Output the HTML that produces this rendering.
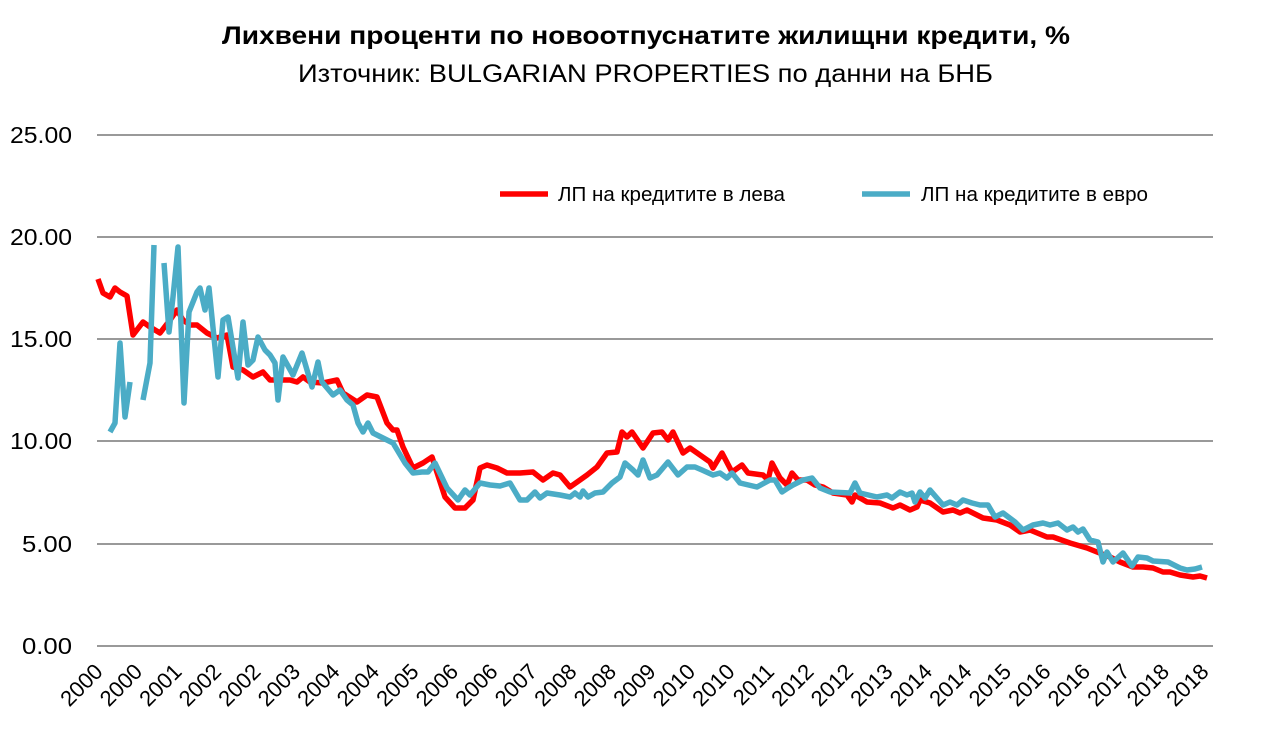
<!DOCTYPE html>
<html><head><meta charset="utf-8"><style>
body{margin:0;background:#fff;}
svg{display:block;font-family:"Liberation Sans","DejaVu Sans",sans-serif;}
</style></head><body>
<svg width="1286" height="743" viewBox="0 0 1286 743">
<text x="222" y="44" font-size="25" font-weight="bold" textLength="848" lengthAdjust="spacingAndGlyphs">Лихвени проценти по новоотпуснатите жилищни кредити, %</text>
<text x="298" y="82" font-size="25" textLength="695" lengthAdjust="spacingAndGlyphs">Източник: BULGARIAN PROPERTIES по данни на БНБ</text>
<g stroke="#999" stroke-width="2">
<line x1="97" x2="1213" y1="135" y2="135"/><line x1="97" x2="1213" y1="237" y2="237"/>
<line x1="97" x2="1213" y1="339" y2="339"/><line x1="97" x2="1213" y1="441" y2="441"/>
<line x1="97" x2="1213" y1="544" y2="544"/><line x1="97" x2="1213" y1="646" y2="646"/>
</g>
<g font-size="23" text-anchor="end" fill="#000">
<text x="72" y="143" textLength="62" lengthAdjust="spacingAndGlyphs">25.00</text><text x="72" y="245" textLength="62" lengthAdjust="spacingAndGlyphs">20.00</text><text x="72" y="347" textLength="62" lengthAdjust="spacingAndGlyphs">15.00</text>
<text x="72" y="449" textLength="62" lengthAdjust="spacingAndGlyphs">10.00</text><text x="72" y="552" textLength="50" lengthAdjust="spacingAndGlyphs">5.00</text><text x="72" y="654" textLength="50" lengthAdjust="spacingAndGlyphs">0.00</text>
</g>
<polyline fill="none" stroke="#ff0000" stroke-width="5.5" stroke-linejoin="round" points="98,279 103,293 110,297 115,288 120,292 127,296 133,335 143,322 150,327 160,333 170,320 177,310 183,320 190,325 197,325 207,333 217,338 227,335 233,367 243,370 253,377 263,372 270,380 290,380 297,382 303,377 310,382 323,383 337,380 343,393 357,402 367,395 377,397 387,423 393,430 397,430 403,447 413,468 423,463 432,457 445,497 455,508 465,508 473,500 480,468 487,465 497,468 507,473 520,473 533,472 543,480 553,473 560,475 570,487 580,480 587,475 597,467 607,453 617,452 622,432 627,437 632,432 643,448 653,433 662,432 668,440 673,432 683,453 690,448 700,455 710,462 713,468 722,453 732,472 742,465 748,473 763,475 768,480 772,463 780,478 787,485 792,473 798,480 807,480 815,485 823,487 833,493 847,495 852,502 855,495 867,502 880,503 893,508 900,505 910,510 917,507 920,500 930,503 943,512 953,510 960,513 967,510 983,518 997,520 1010,525 1020,532 1030,530 1047,537 1053,537 1070,543 1087,548 1097,552 1110,557 1120,562 1133,567 1143,567 1153,568 1163,572 1170,572 1180,575 1193,577 1200,576 1207,578"/>
<g fill="none" stroke="#4bacc6" stroke-width="5.5" stroke-linejoin="round">
<polyline points="110,432 115,423 120,343 125,417 130,382"/>
<polyline points="143,400 150,363 154,245"/>
<polyline points="164,263 169,332 173,297 178,247 184,403 189,312 197,292 200,288 205,310 209,288 218,377 223,320 228,317 238,378 243,322 248,365 253,360 258,337 265,350 270,355 275,363 278,400 283,357 293,375 302,353 312,387 318,362 322,382 333,395 340,390 347,400 353,405 358,423 363,432 368,423 373,433 387,440 393,443 405,463 413,473 422,472 428,472 435,463 447,488 458,500 465,490 470,495 480,483 490,485 500,486 510,483 520,500 527,500 535,492 540,498 547,493 560,495 570,497 575,493 580,497 583,491 588,497 595,493 603,492 612,483 620,477 625,463 633,470 638,475 643,460 650,478 657,475 668,462 678,475 687,467 695,467 702,470 713,475 720,473 727,478 732,473 740,483 757,487 770,480 775,480 782,492 788,488 793,485 803,480 812,478 820,488 830,492 850,493 855,483 860,493 877,497 887,495 892,498 900,492 907,495 912,493 915,502 920,492 925,498 930,490 943,505 950,502 957,505 963,500 972,503 980,505 988,505 995,517 1003,513 1015,522 1023,530 1033,525 1043,523 1050,525 1058,523 1067,530 1073,527 1078,532 1083,529 1090,540 1098,542 1103,562 1107,552 1113,562 1123,553 1132,566 1138,557 1147,558 1153,561 1168,562 1180,568 1187,570 1195,569 1202,567"/>
</g>
<line x1="500" x2="548" y1="194" y2="194" stroke="#ff0000" stroke-width="5.5"/>
<text x="558" y="201" font-size="20" textLength="227" lengthAdjust="spacingAndGlyphs">ЛП на кредитите в лева</text>
<line x1="862" x2="910" y1="194" y2="194" stroke="#4bacc6" stroke-width="5.5"/>
<text x="921" y="201" font-size="20" textLength="227" lengthAdjust="spacingAndGlyphs">ЛП на кредитите в евро</text>
<g font-size="22" text-anchor="end">
<text transform="translate(104,673) rotate(-45)">2000</text>
<text transform="translate(143.5,673) rotate(-45)">2000</text>
<text transform="translate(183,673) rotate(-45)">2001</text>
<text transform="translate(222.5,673) rotate(-45)">2002</text>
<text transform="translate(262,673) rotate(-45)">2002</text>
<text transform="translate(301.5,673) rotate(-45)">2003</text>
<text transform="translate(341,673) rotate(-45)">2004</text>
<text transform="translate(380.5,673) rotate(-45)">2004</text>
<text transform="translate(420,673) rotate(-45)">2005</text>
<text transform="translate(459.5,673) rotate(-45)">2006</text>
<text transform="translate(499,673) rotate(-45)">2006</text>
<text transform="translate(538.5,673) rotate(-45)">2007</text>
<text transform="translate(578,673) rotate(-45)">2008</text>
<text transform="translate(617.5,673) rotate(-45)">2008</text>
<text transform="translate(657,673) rotate(-45)">2009</text>
<text transform="translate(696.5,673) rotate(-45)">2010</text>
<text transform="translate(736,673) rotate(-45)">2010</text>
<text transform="translate(775.5,673) rotate(-45)">2011</text>
<text transform="translate(815,673) rotate(-45)">2012</text>
<text transform="translate(854.5,673) rotate(-45)">2012</text>
<text transform="translate(894,673) rotate(-45)">2013</text>
<text transform="translate(933.5,673) rotate(-45)">2014</text>
<text transform="translate(973,673) rotate(-45)">2014</text>
<text transform="translate(1012.5,673) rotate(-45)">2015</text>
<text transform="translate(1052,673) rotate(-45)">2016</text>
<text transform="translate(1091.5,673) rotate(-45)">2016</text>
<text transform="translate(1131,673) rotate(-45)">2017</text>
<text transform="translate(1170.5,673) rotate(-45)">2018</text>
<text transform="translate(1210,673) rotate(-45)">2018</text>
</g>
</svg>
</body></html>
